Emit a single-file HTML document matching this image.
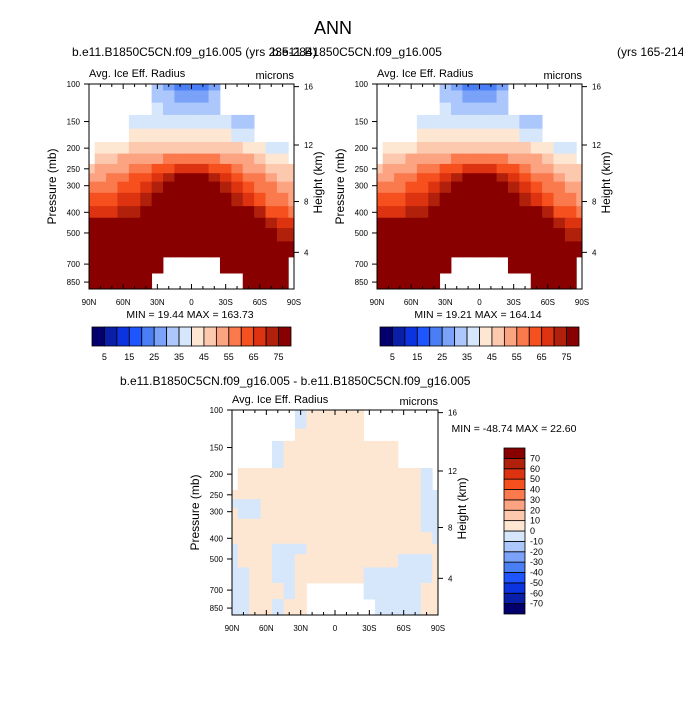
<!DOCTYPE html>
<html><head><meta charset="utf-8">
<style>
html,body{margin:0;padding:0;background:#fff;}
svg{display:block;font-family:"Liberation Sans",Arial,sans-serif;}
</style></head>
<body>
<svg id="fig" width="683" height="703" viewBox="0 0 683 703" xmlns="http://www.w3.org/2000/svg">
<text x="333" y="34" font-size="18" text-anchor="middle">ANN</text>
<text x="72" y="56" font-size="12">b.e11.B1850C5CN.f09_g16.005 (yrs 235-284)</text>
<text x="272" y="56" font-size="12">b.e11.B1850C5CN.f09_g16.005</text>
<text x="617" y="56" font-size="12">(yrs 165-214)</text>
<text x="120" y="385" font-size="12">b.e11.B1850C5CN.f09_g16.005 - b.e11.B1850C5CN.f09_g16.005</text>
<g id="p1"></g>
<g id="p2"></g>
<g id="p3"></g>
</svg>
<script>
const lats=[90,80,70,60,50,40,30,20,10,0,-10,-20,-30,-40,-50,-60,-70,-80,-90];
const levels=[100,115,130,150,175,200,225,250,275,300,350,400,450,500,600,700,850];
const pTicks=[100,150,200,250,300,400,500,700,850];
const hTicks=[4,8,12,16];
const latTicks=[90,60,30,0,-30,-60,-90];
const latLabels=["90N","60N","30N","0","30S","60S","90S"];
const absLevels=[5,10,15,20,25,30,35,40,45,50,55,60,65,70,75];
const absLabels=["5","15","25","35","45","55","65","75"];
const diffLevels=[-70,-60,-50,-40,-30,-20,-10,0,10,20,30,40,50,60,70];
const N=null;
const fieldCtl=[
[N,N,N,N,N,N,32,28,24,21,23,27,N,N,N,N,N,N,N],
[N,N,N,N,N,N,34,31,28,26,27,30,N,N,N,N,N,N,N],
[N,N,N,N,N,N,36,34,32,31,32,34,N,N,N,N,N,N,N],
[N,N,N,N,36,37,38,37,36,36,36,37,36,34,32,N,N,N,N],
[N,N,N,N,41,42,42,41,40,40,40,41,41,38,35,N,N,N,N],
[N,42,43,44,45,46,47,47,47,47,47,47,46,45,43,41,39,37,N],
[N,46,48,50,52,53,54,55,55,55,55,55,54,52,50,47,44,42,N],
[47,50,52,54,56,58,60,63,65,65,65,63,60,57,54,51,48,46,45],
[51,53,55,57,60,63,67,72,77,78,77,72,67,62,58,55,52,49,48],
[55,57,59,61,64,68,72,80,85,85,85,80,72,66,62,59,55,52,50],
[60,62,64,66,68,72,80,90,95,95,95,90,80,72,68,64,59,56,54],
[65,67,69,71,74,80,90,100,100,100,100,98,90,80,76,72,64,61,59],
[76,76,77,78,80,86,100,108,110,110,110,106,98,88,82,77,70,68,67],
[85,86,87,88,90,95,108,115,115,115,115,112,105,96,90,86,78,74,72],
[95,96,98,100,105,110,118,120,120,120,120,118,112,105,100,96,90,86,80],
[100,102,104,106,110,115,118,N,N,N,N,N,120,112,106,102,98,94,N],
[105,106,108,110,114,118,N,N,N,N,N,N,N,N,110,106,102,98,N]];
const fieldTest=fieldCtl.map(r=>r.slice());
const fieldDiff=[
[N,N,N,N,N,N,-2,3,3,3,3,3,N,N,N,N,N,N,N],
[N,N,N,N,N,N,-2,3,3,3,3,3,N,N,N,N,N,N,N],
[N,N,N,N,N,N,3,3,3,3,3,3,N,N,N,N,N,N,N],
[N,N,N,N,-2,3,3,3,3,3,3,3,3,3,3,N,N,N,N],
[N,N,N,N,-2,3,3,3,3,3,3,3,3,3,3,N,N,N,N],
[N,3,3,3,3,3,3,3,3,3,3,3,3,3,3,3,3,-2,N],
[N,3,3,3,3,3,3,3,3,3,3,3,3,3,3,3,3,-2,N],
[3,3,3,3,3,3,3,3,3,3,3,3,3,3,3,3,3,-2,-2],
[-2,-2,-2,3,3,3,3,3,3,3,3,3,3,3,3,3,3,-2,-2],
[3,-2,-2,3,3,3,3,3,3,3,3,3,3,3,3,3,3,-2,-2],
[3,3,3,3,3,3,3,3,3,3,3,3,3,3,3,3,3,-2,-2],
[3,3,3,3,3,3,3,3,3,3,3,3,3,3,3,3,3,3,-2],
[-2,3,3,3,-2,-2,-2,3,3,3,3,3,3,3,3,3,3,3,3],
[-2,3,3,3,-2,-2,3,3,3,3,3,3,3,3,3,-2,-2,-2,3],
[-2,-2,3,3,-2,-2,3,3,3,3,3,3,-2,-2,-2,-2,-2,-2,3],
[-2,-2,3,3,3,-2,3,N,N,N,N,N,-2,-2,-2,-2,-2,3,3],
[-2,-2,3,3,-2,3,3,N,N,N,N,N,N,-2,-2,-2,-2,3,3]];
const colors=["#03006e","#0a1fa8","#0b33e0","#1e55ff","#4a7ef5","#7ba2f9","#abc7fb","#d6e7fc","#fde6d2","#fcc8ae","#fca482","#fa7a4e","#f5501e","#dd3310","#b0200a","#880000"];

const NS="http://www.w3.org/2000/svg";
function mk(parent,tag,attrs,text){const e=document.createElementNS(NS,tag);for(const k in attrs)e.setAttribute(k,attrs[k]);if(text!==undefined)e.textContent=text;parent.appendChild(e);return e;}
function binIndex(v,lv){let i=0;while(i<lv.length&&v>=lv[i])i++;return i;}
const PB=916;
function zToP(z){const m=z*1000;return m<=11000?1013.25*Math.pow(1-2.25577e-5*m,5.25588):226.32*Math.exp(-(m-11000)/6341.6);}

function panel(g,field,lv,x0,y0,w,h,minmax,mmx,mmy){
  const yS=p=>y0+h*Math.log10(p/100)/Math.log10(PB/100);
  const xS=lat=>x0+w*(90-lat)/180;
  const cells=mk(g,'g',{});
  
  
  for(let r=0;r<levels.length;r++){
    const pt=r===0?100:Math.sqrt(levels[r-1]*levels[r]);
    const pb=r===levels.length-1?PB:Math.sqrt(levels[r]*levels[r+1]);
    for(let c=0;c<lats.length;c++){
      const v=field[r][c]; if(v===null)continue;
      const la=Math.min(90,lats[c]+5), lb=Math.max(-90,lats[c]-5);
      const rc=mk(cells,'rect',{x:xS(la),y:yS(pt),width:xS(lb)-xS(la)+0.4,height:yS(pb)-yS(pt)+0.4,fill:colors[binIndex(v,lv)]});
      
      
    }
  }
  const ax=mk(g,'g',{stroke:'#000','stroke-width':1,fill:'none'});
  
  
  mk(ax,'rect',{x:x0,y:y0,width:w,height:h});
  pTicks.forEach(p=>{const y=yS(p);mk(ax,'line',{x1:x0-5,y1:y,x2:x0,y2:y});
    const t=mk(g,'text',{x:x0-9,y:y+3,'font-size':8,'text-anchor':'end'},String(p));
    });
  hTicks.forEach(z=>{const y=yS(zToP(z));mk(ax,'line',{x1:x0+w,y1:y,x2:x0+w+5,y2:y});
    const t=mk(g,'text',{x:x0+w+10,y:y+3,'font-size':8},String(z));
    });
  for(let la=90;la>=-90;la-=10){const x=xS(la);const major=la%30===0;const L=major?5:3;
    mk(ax,'line',{x1:x,y1:y0+h,x2:x,y2:y0+h-L});mk(ax,'line',{x1:x,y1:y0,x2:x,y2:y0+L});}
  latTicks.forEach((la,i)=>{const t=mk(g,'text',{x:xS(la),y:y0+h+16,'font-size':8,'text-anchor':'middle'},latLabels[i]);
    });
  let t=mk(g,'text',{x:x0,y:y0-7,'font-size':11},'Avg. Ice Eff. Radius');
  
  t=mk(g,'text',{x:x0+w,y:y0-5,'font-size':11,'text-anchor':'end'},'microns');
  
  t=mk(g,'text',{x:x0-33,y:y0+h/2,'font-size':12,'text-anchor':'middle',transform:`rotate(-90 ${x0-33} ${y0+h/2})`},'Pressure (mb)');
  
  const hx=x0+w+28, hy=y0+h/2-4;
  t=mk(g,'text',{x:hx,y:hy,'font-size':12,'text-anchor':'middle',transform:`rotate(-90 ${hx} ${hy})`},'Height (km)');
  
  t=mk(g,'text',{x:mmx,y:mmy,'font-size':10.5,'text-anchor':'middle','xml:space':'preserve'},minmax);
  
}
function hbar(g,x0,y0,w,h){
  const cb=mk(g,'g',{});
  
  
  const bw=w/colors.length;
  colors.forEach((c,i)=>{mk(cb,'rect',{x:x0+i*bw,y:y0,width:bw,height:h,fill:c,stroke:'#000','stroke-width':0.8});});
  absLevels.forEach((v,i)=>{ if(i%2===0){const t=mk(cb,'text',{x:x0+(i+1)*bw,y:y0+h+14,'font-size':9,'text-anchor':'middle'},absLabels[i/2]);
    }});
}
function vbar(g,x0,y0,w,h){
  const cb=mk(g,'g',{});
  
  
  const bh=h/colors.length;
  colors.forEach((c,i)=>{mk(cb,'rect',{x:x0,y:y0+(colors.length-1-i)*bh,width:w,height:bh,fill:c,stroke:'#000','stroke-width':0.8});});
  diffLevels.forEach((v,i)=>{const t=mk(cb,'text',{x:x0+w+5,y:y0+(colors.length-1-i)*bh+3,'font-size':9},String(v));
    });
}
const g1=document.getElementById('p1'),g2=document.getElementById('p2'),g3=document.getElementById('p3');
panel(g1,fieldCtl,absLevels,89,84,205,205,'MIN =  19.44  MAX = 163.73',190,318);
hbar(g1,92,327,199,19);
panel(g2,fieldTest,absLevels,377,84,205,205,'MIN =  19.21  MAX = 164.14',478,318);
hbar(g2,380,327,199,19);
panel(g3,fieldDiff,diffLevels,232,410,206,205,'MIN = -48.74  MAX =  22.60',514,432);
vbar(g3,504,448,21,166);
</script>
</body></html>
